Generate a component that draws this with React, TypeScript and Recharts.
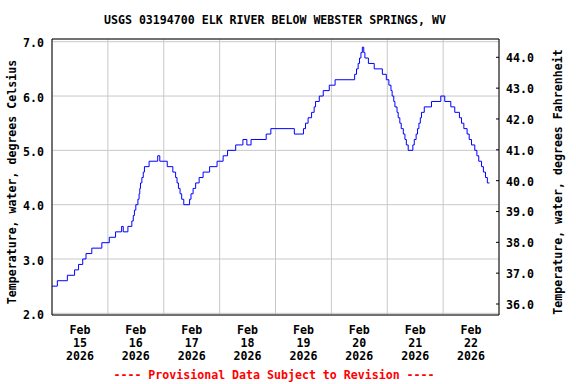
import React from 'react';
import { LineChart, Line, XAxis, YAxis, CartesianGrid, ReferenceLine } from 'recharts';

// hours since Feb 15 2026 00:00 where the reading changes, and the new reading (deg C)
const hours = [
  0, 2.3, 6.6, 9.7, 11.4, 13.2, 14.6, 17.1, 21.4, 24.6, 27.3, 29.9, 30.6, 32.6,
  34.3, 34.9, 35.4, 36.0, 36.9, 37.4, 37.7, 38.0, 38.6, 39.2, 39.7, 41.7, 45.4, 46.3,
  49.5, 51.9, 53.1, 53.7, 54.3, 55.0, 55.7, 56.6, 59.1, 59.7, 60.6, 61.7, 63.2, 64.9,
  67.7, 70.9, 73.5, 75.4, 78.9, 82.0, 83.7, 85.5, 92.0, 94.0, 104.1, 108.0, 108.9,
  110.0, 111.5, 112.6, 113.2, 114.8, 116.5, 119.1, 121.6, 130.0, 130.8, 131.5, 132.1,
  132.7, 133.3, 133.9, 134.4, 135.9, 138.4, 141.9, 143.6, 144.7, 145.6, 146.1, 146.8,
  147.3, 148.2, 148.7, 149.4, 150.0, 150.9, 151.6, 152.2, 153.0, 155.0, 155.6, 156.4,
  157.0, 157.6, 158.2, 158.7, 159.9, 163.0, 167.0, 168.7, 171.3, 173.0, 175.0, 175.9,
  176.9, 178.3, 179.2, 180.2, 181.6, 182.5, 183.3, 184.5, 185.3, 186.2, 187.0, 187.9,
];
const tempC = [
  2.5, 2.6, 2.7, 2.8, 2.9, 3.0, 3.1, 3.2, 3.3, 3.4, 3.5, 3.6, 3.5, 3.6,
  3.7, 3.8, 3.9, 4.0, 4.1, 4.2, 4.3, 4.4, 4.5, 4.6, 4.7, 4.8, 4.9, 4.8,
  4.7, 4.6, 4.5, 4.4, 4.3, 4.2, 4.1, 4.0, 4.1, 4.2, 4.3, 4.4, 4.5, 4.6,
  4.7, 4.8, 4.9, 5.0, 5.1, 5.2, 5.1, 5.2, 5.3, 5.4, 5.3, 5.4, 5.5,
  5.6, 5.7, 5.8, 5.9, 6.0, 6.1, 6.2, 6.3, 6.4, 6.5, 6.6, 6.7,
  6.8, 6.9, 6.8, 6.7, 6.6, 6.5, 6.4, 6.3, 6.2, 6.1, 6.0, 5.9,
  5.8, 5.7, 5.6, 5.5, 5.4, 5.3, 5.2, 5.1, 5.0, 5.1, 5.2, 5.3,
  5.4, 5.5, 5.6, 5.7, 5.8, 5.9, 6.0, 5.9, 5.8, 5.7, 5.6, 5.5,
  5.4, 5.3, 5.2, 5.1, 5.0, 4.9, 4.8, 4.7, 4.6, 4.5, 4.4, 4.4,
];

const dayTicks = [0, 24, 48, 72, 96, 120, 144, 168, 192];
const dayNumbers = ['15', '16', '17', '18', '19', '20', '21', '22'];
const monthLabel = 'Feb';
const yearLabel = '2026';
const celsiusTicks = [2, 3, 4, 5, 6, 7];
const fahrenheitTicks = [36, 37, 38, 39, 40, 41, 42, 43, 44];

const title = 'USGS 03194700 ELK RIVER BELOW WEBSTER SPRINGS, WV';
const leftLabel = 'Temperature, water, degrees Celsius';
const rightLabel = 'Temperature, water, degrees Fahrenheit';
const footer = '---- Provisional Data Subject to Revision ----';

const data = hours.map((h, i) => ({ h, c: tempC[i] }));

const W = 576;
const H = 384;
const PLOT_LEFT = 52;
const PLOT_RIGHT = 499;
const DAY_W = (PLOT_RIGHT - PLOT_LEFT) / 8;
const FONT = '"DejaVu Sans Mono", monospace';
const FS = 11.6;

const DayTick = (props: any) => {
  const { x, y, payload } = props;
  const i = dayTicks.indexOf(payload.value);
  if (i < 0 || i >= dayNumbers.length) return null;
  const cx = x + DAY_W / 2;
  return (
    <text x={cx} y={y} textAnchor="middle" fontFamily={FONT} fontSize={FS} fontWeight="bold" fill="#000">
      <tspan x={cx} dy={19}>{monthLabel}</tspan>
      <tspan x={cx} dy={13}>{dayNumbers[i]}</tspan>
      <tspan x={cx} dy={13}>{yearLabel}</tspan>
    </text>
  );
};

const FTick = (props: any) => {
  const { x, y, payload } = props;
  return (
    <g>
      <line x1={x - 3} x2={x} y1={y - 1} y2={y - 1} stroke="#000" />
      <text x={x + 7} y={y + 4} textAnchor="start" fontFamily={FONT} fontSize={FS} fontWeight="bold" fill="#000">
        {payload.value.toFixed(1)}
      </text>
    </g>
  );
};

const App = () => {
  return (
    <div style={{ position: 'absolute', left: 0, top: 0, width: W, height: H, background: '#fff' }}>
      <LineChart width={W} height={H} data={data} margin={{ top: 39, right: 0, bottom: 0, left: 0 }}>
        <CartesianGrid yAxisId="c" stroke="#c8c8c8" strokeWidth={1} />
        <XAxis
          dataKey="h"
          type="number"
          domain={[0, 192]}
          ticks={dayTicks}
          interval={0}
          height={69}
          tickLine={false}
          tickSize={0}
          tickMargin={0}
          axisLine={{ stroke: '#000' }}
          tick={<DayTick />}
        />
        <YAxis
          yAxisId="c"
          type="number"
          domain={[1.969, 7.05]}
          allowDataOverflow
          ticks={celsiusTicks}
          interval={0}
          width={52}
          tickLine={false}
          tickSize={0}
          tickMargin={8}
          axisLine={{ stroke: '#000' }}
          tickFormatter={(v: number) => v.toFixed(1)}
          tick={{ fill: '#000', fontFamily: FONT, fontSize: FS, fontWeight: 'bold', dy: 1.5 }}
        />
        <YAxis
          yAxisId="f"
          orientation="right"
          type="number"
          domain={[35.676, 44.626]}
          allowDataOverflow
          ticks={fahrenheitTicks}
          interval={0}
          width={77}
          tickLine={false}
          tickSize={0}
          tickMargin={0}
          axisLine={{ stroke: '#000' }}
          tick={<FTick />}
        />
        <ReferenceLine yAxisId="c" y={7.05} stroke="#000" />
        <Line
          yAxisId="c"
          type="stepAfter"
          dataKey="c"
          stroke="#0000ff"
          strokeWidth={1}
          dot={false}
          isAnimationActive={false}
        />
      </LineChart>
      <svg
        width={W}
        height={H}
        style={{ position: 'absolute', left: 0, top: 0, pointerEvents: 'none' }}
        fontFamily={FONT}
        fontSize={FS}
        fontWeight="bold"
      >
        <text x={275} y={24} textAnchor="middle" fill="#000">{title}</text>
        <text x={11.5} y={182} textAnchor="middle" dominantBaseline="central" transform="rotate(-90 11.5 182)" fill="#000">
          {leftLabel}
        </text>
        <text x={558} y={182} textAnchor="middle" dominantBaseline="central" transform="rotate(-90 558 182)" fill="#000">
          {rightLabel}
        </text>
        <text x={274} y={379} textAnchor="middle" fill="#ff0000">{footer}</text>
      </svg>
    </div>
  );
};

export default App;
